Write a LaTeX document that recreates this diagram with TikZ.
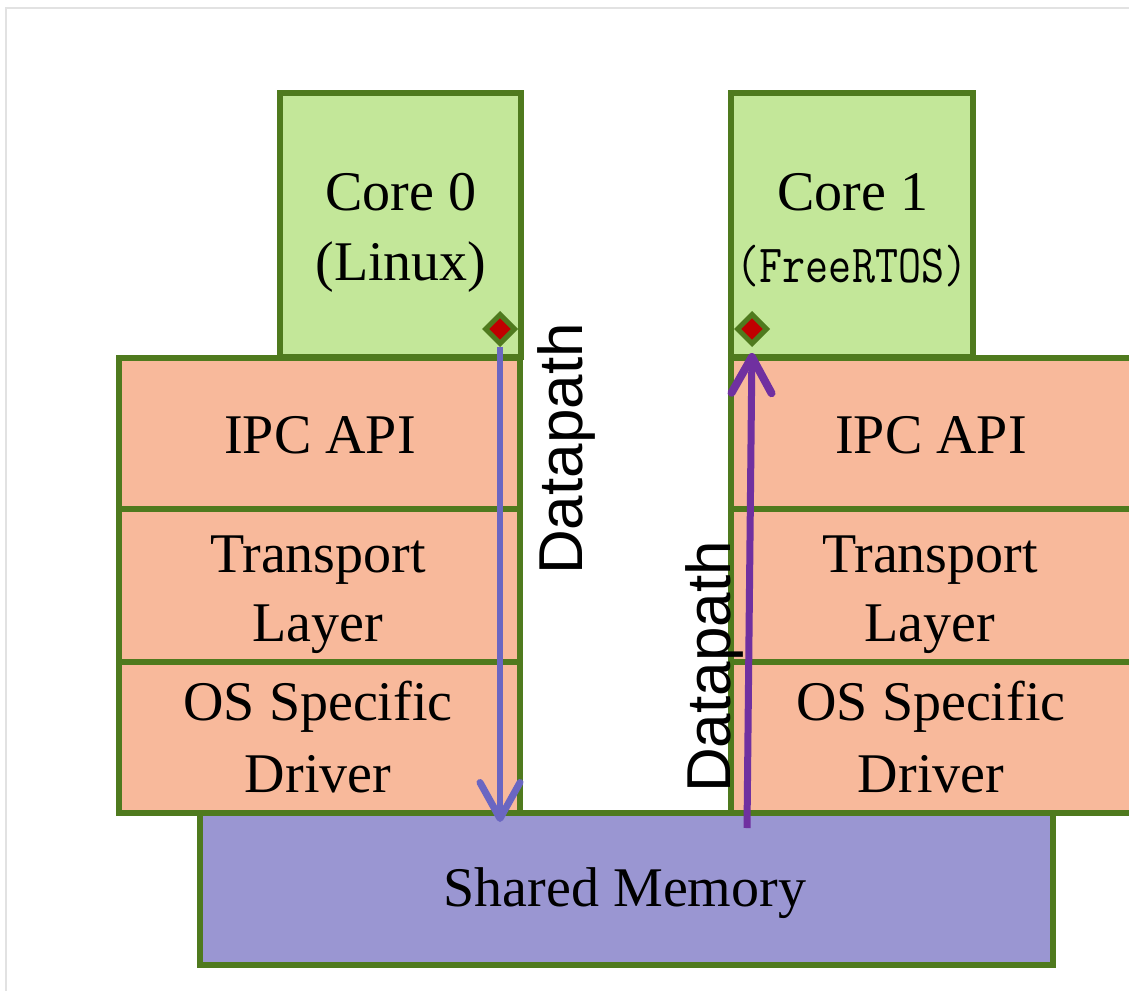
\documentclass[tikz,border=0pt]{standalone}
\usepackage{fontspec}
\setmainfont{Liberation Serif}
\newfontfamily\dpsans{Liberation Sans}
\usetikzlibrary{arrows.meta,shapes.geometric}
\definecolor{gline}{HTML}{4F7A1E}
\definecolor{corefill}{HTML}{C3E799}
\definecolor{layerfill}{HTML}{F8B99B}
\definecolor{memfill}{HTML}{9A96D2}
\definecolor{arrA}{HTML}{6A66C2}
\definecolor{arrB}{HTML}{7030A0}
\definecolor{diafill}{HTML}{C00000}
\definecolor{framec}{HTML}{E2E2E2}
\tikzset{
  blk/.style={draw=gline, line width=5.5pt, inner sep=0pt, outer sep=0pt, rectangle},
  corebox/.style={blk, fill=corefill},
  layerbox/.style={blk, fill=layerfill},
  membox/.style={blk, fill=memfill},
  lbl/.style={anchor=base, inner sep=0pt, font=\fontsize{56}{60}\selectfont, text=black},
  dp/.style={anchor=base, inner sep=0pt, rotate=90, font=\dpsans\fontsize{62}{62}\selectfont, text=black},
  dia/.style={diamond, draw=gline, fill=diafill, line width=5pt, minimum width=31pt, minimum height=31pt, inner sep=0pt},
  arrowA/.style={draw=arrA, line width=5.5pt, -{Straight Barb[length=36pt,width=40pt,round,line width=7pt]}},
  arrowB/.style={draw=arrB, line width=7pt, shorten >=6pt, -{Straight Barb[length=36pt,width=40pt,round,line width=8pt]}}
}
\begin{document}
\begin{tikzpicture}[x=1pt,y=-1pt]
\useasboundingbox (0,0) rectangle (1129,991);
\clip (0,0) rectangle (1129,991);
% frame
\draw[framec, line width=2pt] (6,991) -- (6,8) -- (1135,8);
% cores
\node[corebox, minimum width=241pt, minimum height=264pt] (core0) at (400.5,225) {};
\node[corebox, minimum width=242pt, minimum height=264pt] (core1) at (852,225) {};
% left stack
\node[layerbox, minimum width=401pt, minimum height=151pt] (ipcL) at (319.5,433.5) {};
\node[layerbox, minimum width=401pt, minimum height=153pt] (trL) at (319.5,585.5) {};
\node[layerbox, minimum width=401pt, minimum height=151pt] (osL) at (319.5,737.5) {};
% right stack
\node[layerbox, minimum width=409pt, minimum height=151pt] (ipcR) at (935.5,433.5) {};
\node[layerbox, minimum width=409pt, minimum height=153pt] (trR) at (935.5,585.5) {};
\node[layerbox, minimum width=409pt, minimum height=151pt] (osR) at (935.5,737.5) {};
% shared memory
\node[membox, minimum width=853pt, minimum height=152pt] (mem) at (626.5,889) {};
% texts
\node[lbl] (t0a) at (401,210) {Core 0};
\node[lbl] (t0b) at (401,280) {(Linux)};
\node[lbl] (t1a) at (853,210) {Core 1};
\node[anchor=base, inner sep=0pt, font=\ttfamily\fontsize{43}{43}\selectfont] (t1b) at (852,282) {\scalebox{1.04}[1.25]{(FreeRTOS)}};
\node[lbl] (tipcL) at (320,453) {IPC API};
\node[lbl] (ttrL1) at (318,572) {Transport};
\node[lbl] (ttrL2) at (318,641) {Layer};
\node[lbl] (tosL1) at (318,720) {OS Specific};
\node[lbl] (tosL2) at (318,792) {Driver};
\node[lbl] (tipcR) at (931,453) {IPC API};
\node[lbl] (ttrR1) at (930,572) {Transport};
\node[lbl] (ttrR2) at (930,641) {Layer};
\node[lbl] (tosR1) at (931,720) {OS Specific};
\node[lbl] (tosR2) at (931,792) {Driver};
\node[lbl] (tmem) at (625,906) {Shared Memory};
% diamonds and arrows
\node[dia] (d0) at (500,329) {};
\node[dia] (d1) at (752,329) {};
\coordinate (a0end) at (500,822);
\coordinate (a1start) at (747,828);
\draw[arrowA] (d0.south) -- (a0end);
\draw[arrowB] (a1start) -- (d1.south);
% datapath labels
\node[dp] (dpL) at (582,449) {Datapath};
\node[dp] (dpR) at (730,667) {Datapath};
\end{tikzpicture}
\end{document}
